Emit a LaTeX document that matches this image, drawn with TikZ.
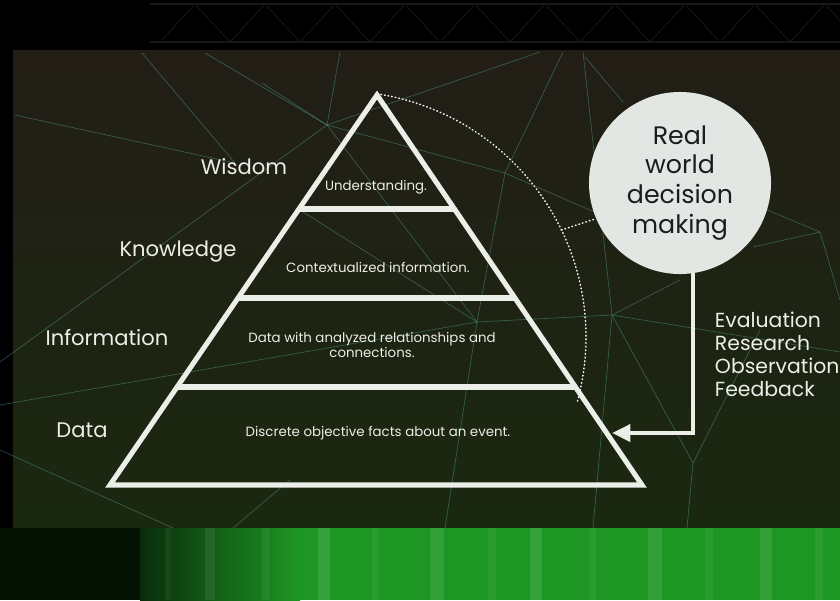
\documentclass[tikz,border=0pt]{standalone}
\usepackage{fontspec}
\setmainfont{Poppins}
\usetikzlibrary{arrows.meta,positioning,calc}
\definecolor{slidetop}{RGB}{34,30,22}
\definecolor{slidebot}{RGB}{26,40,16}
\definecolor{nettint}{RGB}{80,160,145}
\definecolor{chalk}{RGB}{236,238,232}
\definecolor{bubble}{RGB}{226,231,228}
\definecolor{ink}{RGB}{28,28,30}
\definecolor{curtain}{RGB}{30,150,36}
\definecolor{truss}{RGB}{24,24,23}
\tikzset{
  levellabel/.style={font=\fontsize{15}{17}\selectfont, text=chalk},
  leveltext/.style={font=\fontsize{9.5}{11.2}\selectfont, text=chalk, align=center},
  pyrline/.style={draw=chalk, line width=3.6pt, line join=miter},
  netline/.style={nettint, opacity=0.5, line width=0.45pt},
  dotarc/.style={chalk, line width=1.1pt, dash pattern=on 0.5pt off 2.1pt, line cap=round},
}

\begin{document}
\begin{tikzpicture}[x=0.025cm, y=-0.025cm]
\useasboundingbox (0,0) rectangle (840,600);
% Stage: black surround, the screen, green curtain below
\fill[black] (0,0) rectangle (840,600);
\shade[top color=slidetop, bottom color=slidebot] (13,50) rectangle (840,528);
\foreach \yy in {4,42} \draw[truss, line width=1pt] (150,\yy) -- (840,\yy);
\foreach \xx in {160,230,...,800}
  \draw[truss, line width=0.6pt] (\xx,42) -- ++(35,-38) -- ++(35,38);
\fill[black!88!curtain] (0,528) rectangle (140,600);
\shade[left color=curtain!30!black, right color=curtain] (140,528) rectangle (300,600);
\fill[curtain] (300,528) rectangle (840,600);
\foreach \xx/\ww/\op in {165/6/0.05,205/10/0.08,262/7/0.06,318/12/0.10,372/6/0.05,
    430/14/0.09,488/8/0.06,530/12/0.10,590/6/0.05,648/14/0.09,705/8/0.05,
    760/12/0.09,815/8/0.06}
  \fill[white, opacity=\op] (\xx,528) rectangle ++(\ww,72);
% Faint network behind the slide content
\foreach \a/\b in {{(15,115)}/{(235,163)}, {(142,53)}/{(235,163)},
    {(205,53)}/{(327,125)}, {(327,125)}/{(0,362)}, {(327,125)}/{(340,52)},
    {(327,125)}/{(262,83)}, {(327,125)}/{(477,322)}, {(327,125)}/{(505,173)},
    {(327,125)}/{(540,52)}, {(505,173)}/{(563,52)}, {(505,173)}/{(477,322)},
    {(505,173)}/{(640,232)}, {(477,322)}/{(0,405)}, {(477,322)}/{(612,315)},
    {(477,322)}/{(300,210)}, {(477,322)}/{(445,528)}, {(612,315)}/{(583,52)},
    {(612,315)}/{(680,280)}, {(612,315)}/{(693,463)}, {(693,463)}/{(687,528)},
    {(612,315)}/{(593,528)}, {(0,450)}/{(173,528)}, {(233,528)}/{(290,480)},
    {(693,463)}/{(760,330)}, {(820,232)}/{(760,207)}, {(820,232)}/{(753,247)},
    {(820,232)}/{(840,300)}, {(585,57)}/{(623,102)}, {(612,315)}/{(840,352)}}
  \draw[netline] \a -- \b;
% Pyramid outline and the three dividers
\coordinate (apex) at (377,95);
\coordinate (baseL) at (110,485);
\coordinate (baseR) at (642,485);
\draw[pyrline] (apex) -- (baseL) -- (baseR) -- cycle;
\foreach \yy in {209,298,387}
  \draw[pyrline, line width=4.2pt]
    ({377-0.6846*(\yy-95)},\yy) -- ({377+0.6795*(\yy-95)},\yy);
% Level descriptions inside the pyramid
\node[leveltext] (understand) at (376,187) {Understanding.};
\node[leveltext] (context) at (378,267) {Contextualized information.};
\node[leveltext] (relations) at (372,345)
  {Data with analyzed relationships and\\connections.};
\node[leveltext] (facts) at (378,433) {Discrete objective facts about an event.};
% Level names on the left
\node[levellabel] (wisdom) at (244,167) {Wisdom};
\node[levellabel] (knowledge) at (178,252) {Knowledge};
\node[levellabel] (information) at (107,338) {Information};
\node[levellabel] (data) at (82,430) {Data};
% Decision bubble and its feedback arrow into the data level
\node[circle, fill=bubble, minimum size=4.55cm, inner sep=0pt, align=center,
  text=ink, font=\fontsize{18}{21.3}\selectfont] (rwdm) at (680,183)
  {Real\\world\\decision\\making};
\coordinate (datatip) at (612,433);
\draw[chalk, line width=2.8pt, -{Triangle[length=13pt,width=12pt]}]
  (rwdm.-82) |- (datatip);
\node[anchor=north west, align=left, text=chalk,
  font=\fontsize{14.5}{16.4}\selectfont] (steps) at (710,307)
  {Evaluation\\Research\\Observation\\Feedback};
% Dotted arc from the apex, joined to the bubble
\coordinate (arcjoin) at ({340+246*cos(-25.8)},{337+246*sin(-25.8)});
\draw[dotarc] plot[domain=-81.3:15.1, samples=80]
  ({340+246*cos(\x)},{337+246*sin(\x)});
\draw[dotarc] (arcjoin) -- (rwdm.203);
\end{tikzpicture}
\end{document}
